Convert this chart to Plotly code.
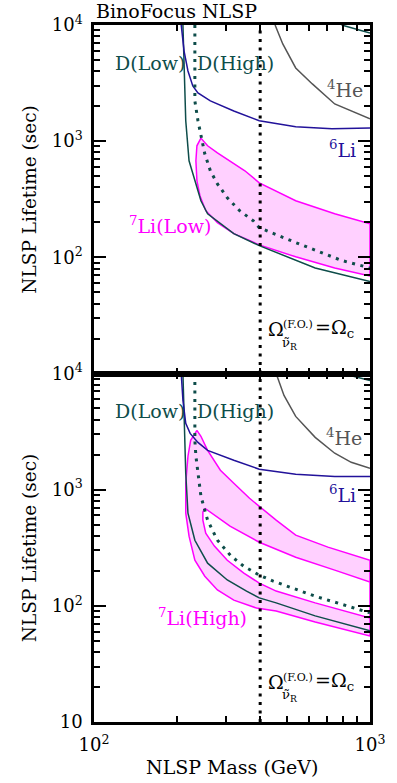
import plotly.graph_objects as go

# ---------------- data (mass in GeV, lifetime in sec) ----------------
omega_mass = 400  # Omega(F.O.) = Omega_c line

# --- top panel (7Li Low) ---
top_dlow_m = [210, 212, 215, 221, 232, 244, 258, 321, 397, 457, 633, 1000]
top_dlow_t = [10000, 4900, 1500, 678, 456, 307, 237, 160, 126, 110, 81, 62]
top_dlow2_m = [789, 1000]
top_dlow2_t = [10000, 8530]
top_dhigh_m = [232, 232, 238, 244, 252, 264, 280, 304, 337, 378, 397, 538, 789, 1000]
top_dhigh_t = [10000, 2220, 1500, 1155, 778, 556, 429, 326, 252, 206, 180, 134, 94, 81]
top_li6_m = [207, 212, 219, 228, 238, 264, 321, 397, 538, 728, 1000]
top_li6_t = [10000, 5970, 4020, 2990, 2600, 2220, 1820, 1500, 1330, 1280, 1300]
top_he4_m = [453, 483, 538, 618, 745, 1000]
top_he4_t = [10000, 6870, 4270, 3110, 2090, 1560]
top_li7_up_m = [244, 258, 280, 311, 352, 397, 457, 538, 745, 1000]
top_li7_up_t = [1062, 912, 794, 678, 556, 438, 374, 307, 237, 194]
top_li7_lo_m = [244, 236, 234, 236, 242, 254, 280, 321, 397, 538, 745, 1000]
top_li7_lo_t = [1062, 912, 678, 456, 339, 252, 199, 160, 128, 101, 81, 69]

# --- bottom panel (7Li High) ---
bot_dlow_m = [210, 212, 215, 219, 232, 258, 304, 357, 397, 457, 633, 1000]
bot_dlow_t = [10000, 3950, 1380, 627, 367, 233, 167, 134, 117, 106, 82, 61]
bot_dlow2_m = [795, 1000]
bot_dlow2_t = [10000, 8700]
bot_dhigh_m = [232, 232, 234, 238, 244, 258, 280, 314, 348, 397, 446, 633, 1000]
bot_dhigh_t = [10000, 2660, 1940, 1380, 878, 546, 367, 268, 220, 184, 163, 121, 87]
bot_li6_m = [207, 210, 215, 223, 238, 258, 321, 397, 538, 745, 1000]
bot_li6_t = [10000, 5860, 3720, 3050, 2550, 2180, 1790, 1500, 1360, 1300, 1300]
bot_he4_m = [457, 488, 538, 633, 745, 855, 1000]
bot_he4_t = [10000, 6470, 4270, 2820, 2060, 1720, 1530]
bot_li7_up_m = [236, 244, 258, 287, 321, 366, 457, 538, 704, 1000]
bot_li7_up_t = [3240, 2880, 2180, 1470, 1135, 843, 546, 406, 320, 247]
bot_li7_lo_m = [236, 224, 219, 215, 215, 221, 232, 252, 280, 321, 388, 457, 633, 1000]
bot_li7_lo_t = [3240, 2660, 1940, 1135, 627, 398, 247, 180, 137, 112, 95.7, 90.2, 72.6, 55.1]
bot_hole_up_m = [252, 264, 311, 397, 457, 538, 745, 1000]
bot_hole_up_t = [692, 640, 485, 353, 308, 262, 203, 160]
bot_hole_lo_m = [252, 248, 248, 254, 273, 304, 349, 397, 457, 633, 1000]
bot_hole_lo_t = [692, 640, 546, 422, 327, 247, 191, 157, 134, 106, 78.5]

y_tickvals_top = [100, 1000, 10000]
y_ticktext_top = ["10<sup>2</sup>", "10<sup>3</sup>", "10<sup>4</sup>"]
y_tickvals_bot = [10, 100, 1000, 10000]
y_ticktext_bot = ["10", "10<sup>2</sup>", "10<sup>3</sup>", "10<sup>4</sup>"]
x_tickvals = [100, 1000]
x_ticktext = ["10<sup>2</sup>", "10<sup>3</sup>"]

# ---------------- style ----------------
FONT = "DejaVu Serif"
TEAL = "#0e4d4a"
BLUE = "#22129a"
GRAY = "#555555"
MAG = "#ff00ff"
PINK = "#ffd0ff"

fig = go.Figure()


def line(x, y, ax, color, width=1.5, dash=None, fill=None, fillcolor=None):
    xa, ya = ("x2", "y2") if ax == "top" else ("x", "y")
    fig.add_trace(go.Scatter(
        x=x, y=y, xaxis=xa, yaxis=ya, mode="lines",
        line=dict(color=color, width=width, dash=dash),
        fill=fill, fillcolor=fillcolor, showlegend=False, hoverinfo="skip"))


# top panel
line(top_li7_up_m + top_li7_lo_m[::-1], top_li7_up_t + top_li7_lo_t[::-1], "top", MAG,
     fill="toself", fillcolor=PINK)
line(top_dlow_m, top_dlow_t, "top", TEAL)
line(top_dlow2_m, top_dlow2_t, "top", TEAL)
line(top_li6_m, top_li6_t, "top", BLUE)
line(top_he4_m, top_he4_t, "top", GRAY)
line(top_dhigh_m, top_dhigh_t, "top", TEAL, width=3, dash="3px,5.5px")
line([omega_mass, omega_mass], [10, 10000], "top", "black", width=3, dash="3px,5.5px")

# bottom panel
line(bot_li7_up_m + bot_li7_lo_m[::-1], bot_li7_up_t + bot_li7_lo_t[::-1], "bot", MAG,
     fill="toself", fillcolor=PINK)
line(bot_hole_up_m + bot_hole_lo_m[::-1], bot_hole_up_t + bot_hole_lo_t[::-1], "bot", MAG,
     fill="toself", fillcolor="white")
line(bot_dlow_m, bot_dlow_t, "bot", TEAL)
line(bot_dlow2_m, bot_dlow2_t, "bot", TEAL)
line(bot_li6_m, bot_li6_t, "bot", BLUE)
line(bot_he4_m, bot_he4_t, "bot", GRAY)
line(bot_dhigh_m, bot_dhigh_t, "bot", TEAL, width=3, dash="3px,5.5px")
line([omega_mass, omega_mass], [10, 10000], "bot", "black", width=3, dash="3px,5.5px")

minor_x = [m * 100 for m in range(2, 10)]
minor_y = [m * 10 ** e for e in range(1, 4) for m in range(2, 10)]


def axis(**kw):
    d = dict(type="log", showline=True, linecolor="black", linewidth=2.5,
             mirror="allticks", ticks="inside", ticklen=12, tickwidth=1.5,
             tickcolor="black", showgrid=False, zeroline=False,
             tickmode="array",
             tickfont=dict(family=FONT, size=18, color="black"),
             ticklabelstandoff=5)
    d.update(kw)
    return d


minor_xd = dict(ticks="inside", ticklen=6, tickwidth=1.5, tickcolor="black",
                tickmode="array", tickvals=minor_x, showgrid=False)
minor_yd = dict(ticks="inside", ticklen=6, tickwidth=1.5, tickcolor="black",
                tickmode="array", tickvals=minor_y, showgrid=False)

fig.update_layout(
    width=397, height=783,
    margin=dict(l=94, r=21, t=24, b=61),
    paper_bgcolor="white", plot_bgcolor="white",
    font=dict(family=FONT, color="black"),
    xaxis=axis(range=[2, 3], anchor="y", tickvals=x_tickvals, ticktext=x_ticktext,
               minor=minor_xd),
    yaxis=axis(range=[1, 4], domain=[0, 0.5], anchor="x", tickvals=y_tickvals_bot,
               ticktext=y_ticktext_bot, minor=minor_yd),
    xaxis2=axis(range=[2, 3], anchor="y2", tickvals=x_tickvals, showticklabels=False,
                minor=minor_xd),
    yaxis2=axis(range=[1, 4], domain=[0.5, 1], anchor="x2", tickvals=y_tickvals_top,
                ticktext=y_ticktext_top, minor=minor_yd),
)

ann = []


def label(text, lx, ly, ax, color, size=19, xanchor="center"):
    xr, yr = ("x2", "y2") if ax == "top" else ("x", "y")
    ann.append(dict(text=text, x=lx, y=ly, xref=xr, yref=yr, showarrow=False,
                    xanchor=xanchor, yanchor="middle",
                    font=dict(family=FONT, size=size, color=color)))


# top panel labels
label("D(Low)", 2.202, 3.673, "top", TEAL)
label("D(High)", 2.514, 3.673, "top", TEAL)
label("<sup>4</sup>He", 2.910, 3.45, "top", GRAY)
label("<sup>6</sup>Li", 2.899, 2.934, "top", BLUE)
label("<sup>7</sup>Li(Low)", 2.276, 2.28, "top", MAG)
label("Ω", 2.659, 1.386, "top", "black", size=19)
label("(F.O.)", 2.738, 1.425, "top", "black", size=11)
label("ν̃<sub>R</sub>", 2.710, 1.262, "top", "black", size=13)
label("=Ω<sub>c</sub>", 2.794, 1.386, "top", "black", size=19, xanchor="left")

# bottom panel labels
label("D(Low)", 2.202, 3.674, "bot", TEAL)
label("D(High)", 2.514, 3.674, "bot", TEAL)
label("<sup>4</sup>He", 2.907, 3.45, "bot", GRAY)
label("<sup>6</sup>Li", 2.899, 2.96, "bot", BLUE)
label("<sup>7</sup>Li(High)", 2.393, 1.904, "bot", MAG)
label("Ω", 2.659, 1.345, "bot", "black", size=19)
label("(F.O.)", 2.738, 1.384, "bot", "black", size=11)
label("ν̃<sub>R</sub>", 2.710, 1.226, "bot", "black", size=13)
label("=Ω<sub>c</sub>", 2.794, 1.345, "bot", "black", size=19, xanchor="left")

# titles
ann.append(dict(text="BinoFocus NLSP", x=0, y=1.02, xref="paper", yref="paper",
                xanchor="left", yanchor="middle", showarrow=False,
                font=dict(family=FONT, size=19, color="black")))
ann.append(dict(text="NLSP Mass (GeV)", x=0.5, y=-0.0645, xref="paper", yref="paper",
                xanchor="center", yanchor="middle", showarrow=False,
                font=dict(family=FONT, size=19, color="black")))
for yc in (0.749, 0.249):
    ann.append(dict(text="NLSP Lifetime (sec)", x=-0.233, y=yc, xref="paper", yref="paper",
                    xanchor="center", yanchor="middle", showarrow=False, textangle=-90,
                    font=dict(family=FONT, size=18.5, color="black")))

fig.update_layout(annotations=ann)
fig.write_html("out.html", config={"displayModeBar": False},
               post_script="document.body.style.margin='0px';document.body.style.padding='0px';")
